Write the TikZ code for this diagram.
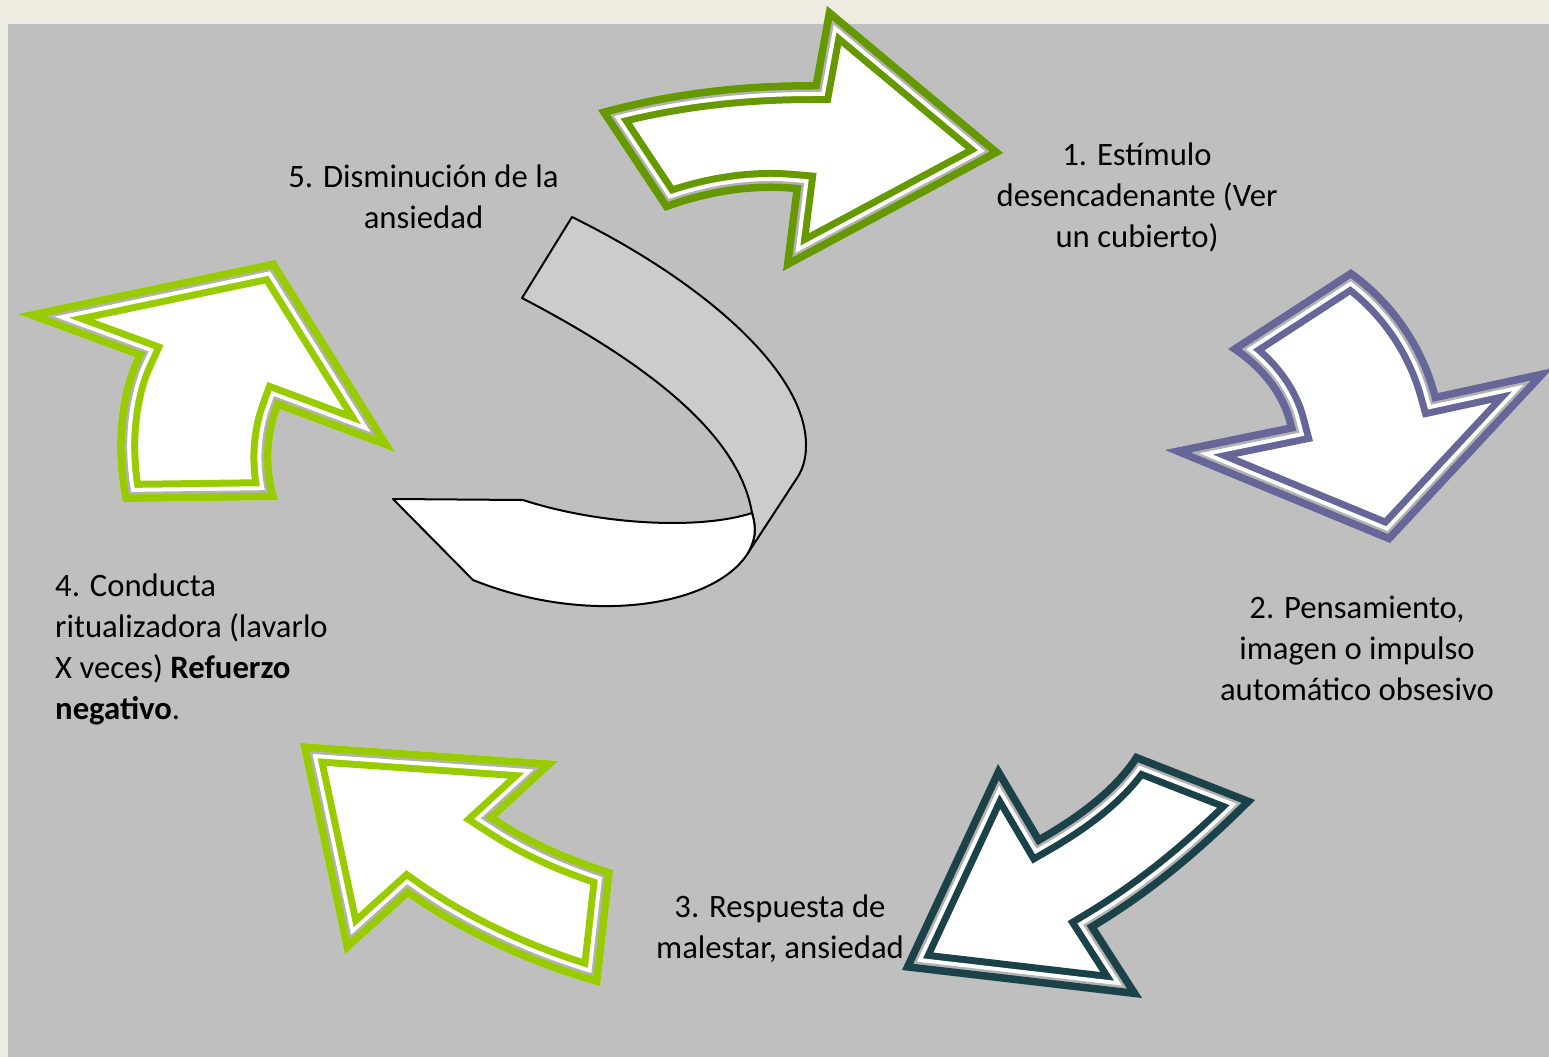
\documentclass[tikz,border=0pt]{standalone}
\usepackage{fontspec}
\setmainfont{Carlito}
\definecolor{pagebeige}{RGB}{238,236,225}
\definecolor{panelgray}{RGB}{191,191,191}
\definecolor{ribbongray}{RGB}{204,204,204}
\definecolor{bandgray}{RGB}{178,178,178}
\definecolor{olivegreen}{RGB}{102,153,0}
\definecolor{limegreen}{RGB}{153,204,0}
\definecolor{slateblue}{RGB}{102,102,153}
\definecolor{darkteal}{RGB}{26,66,72}
%% block arrow with a double border: colour, gray, white, colour
\newcommand\bandarrow[2]{%
  \begin{scope}
    \clip #2;
    \fill[white] #2;
    \draw[#1, line width=42pt] #2;
    \draw[white, line width=28pt] #2;
    \draw[bandgray, line width=20pt] #2;
    \draw[#1, line width=15pt] #2;
  \end{scope}}
\tikzset{
  lbl/.style={font=\fontsize{32.7}{40.8}\selectfont, align=center, inner sep=0pt},
  ribbon/.style={draw=black, line width=2pt, line join=round}
}
\begin{document}
\begin{tikzpicture}[x=1pt,y=-1pt]
    \fill[pagebeige] (0,0) rectangle (1549,1057);
    \fill[panelgray] (8,24) rectangle (1549,1057);
    \useasboundingbox (0,0) rectangle (1549,1057);
    %% curved ribbon
    \filldraw[ribbon, fill=ribbongray] (572,217) .. controls (700,280) and (806,370) .. (806,445)
        .. controls (806,462) and (801,472) .. (797,478) -- (748,553)
        .. controls (755,540) and (757,530) .. (752,513)
        .. controls (740,440) and (660,370) .. (522,298) -- cycle;
    \filldraw[ribbon, fill=white] (393,499) -- (523,500) .. controls (600,525) and (700,530) .. (752,513)
        .. controls (757,530) and (755,540) .. (748,553)
        .. controls (715,606) and (590,627) .. (473,580) -- cycle;
    %% arrows
    \bandarrow{olivegreen}{(598,110) .. controls (670,90) and (740,82) .. (813,82) -- (827,6) -- (1003,153)
        -- (783,271) -- (793,192) .. controls (750,188) and (705,196) .. (665,211) -- cycle}
    \bandarrow{slateblue}{(1351,269) .. controls (1395,300) and (1425,345) .. (1438,393) -- (1553,368)
        -- (1390,543) -- (1165,450) -- (1287,425) .. controls (1280,395) and (1258,368) .. (1228,349) -- cycle}
    \bandarrow{darkteal}{(998,764) -- (1040,835) .. controls (1080,812) and (1115,785) .. (1135,753)
        -- (1255,800) .. controls (1210,845) and (1160,890) .. (1097,928) -- (1142,998) -- (902,970) -- cycle}
    \bandarrow{limegreen}{(300,743) -- (558,761) -- (497,817) .. controls (535,842) and (575,858) .. (613,870)
        -- (600,986) .. controls (535,968) and (465,937) .. (408,897) -- (345,954) -- cycle}
    \bandarrow{limegreen}{(18,314) -- (275,260) -- (395,452) -- (280,409) .. controls (270,435) and (268,470) .. (278,500)
        -- (123,502) .. controls (112,450) and (117,395) .. (135,357) -- cycle}
    %% labels
    \node[lbl] (estimulo) at (1137,197.5) {1. Estímulo\\desencadenante (Ver\\un cubierto)};
    \node[lbl] (pensamiento) at (1357,648.5) {2. Pensamiento,\\imagen o impulso\\automático obsesivo};
    \node[lbl] (respuesta) at (780,928.5) {3. Respuesta de\\malestar, ansiedad};
    \node[lbl, align=left, anchor=west] (conducta) at (55,649.5) {4. Conducta\\ritualizadora (lavarlo\\X veces) \textbf{Refuerzo}\\\textbf{negativo}.};
    \node[lbl] (disminucion) at (423.5,196.5) {5. Disminución de la\\ansiedad};
\end{tikzpicture}
\end{document}
